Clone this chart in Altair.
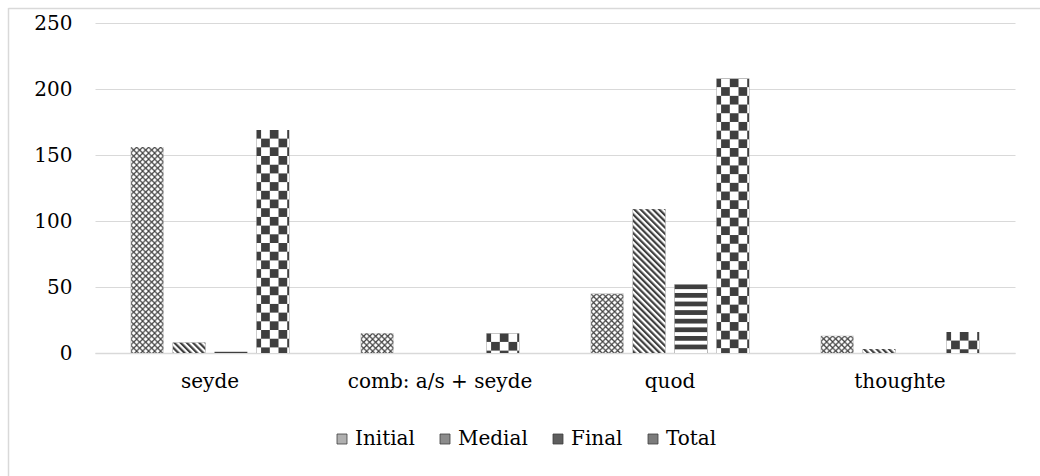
import urllib.parse
import altair as alt
import pandas as pd

# ---- data ----
categories = ["seyde", "comb: a/s + seyde", "quod", "thoughte"]
series = ["Initial", "Medial", "Final", "Total"]
initial = [156, 15, 45, 13]
medial = [8, 0, 109, 3]
final = [1, 0, 52, 0]
total = [169, 15, 208, 16]
y_ticks = [0, 50, 100, 150, 200, 250]

# ---- styles ----
DARK = "#3f3f3f"
FONT = "DejaVu Serif"
FS = 20
GRID = "#d9d9d9"
legend_fills = ["#b0b0b0", "#8c8c8c", "#5e5e5e", "#7c7c7c"]


def svg_url(pattern):
    svg = (
        '<svg xmlns="http://www.w3.org/2000/svg">'
        f"<defs>{pattern}</defs>"
        '<rect width="100%" height="100%" fill="#ffffff"/>'
        '<rect width="100%" height="100%" fill="url(#p)"/></svg>'
    )
    return "data:image/svg+xml," + urllib.parse.quote(svg)


patterns = {
    "Initial": svg_url(
        '<pattern id="p" width="6" height="6" patternUnits="userSpaceOnUse">'
        f'<path d="M0,0L6,6M6,0L0,6" stroke="{DARK}" stroke-width="1.2"/></pattern>'
    ),
    "Medial": svg_url(
        '<pattern id="p" width="4.4" height="4.4" patternUnits="userSpaceOnUse" '
        'patternTransform="rotate(-45)">'
        f'<rect width="2.2" height="4.4" fill="{DARK}"/></pattern>'
    ),
    "Final": svg_url(
        '<pattern id="p" width="8" height="8.6" patternUnits="userSpaceOnUse">'
        f'<rect width="8" height="4.3" fill="{DARK}" shape-rendering="crispEdges"/></pattern>'
    ),
    "Total": svg_url(
        '<pattern id="p" width="17.4" height="17.4" patternUnits="userSpaceOnUse" '
        'patternTransform="translate(-4,0)">'
        f'<rect width="8.7" height="8.7" fill="{DARK}" shape-rendering="crispEdges"/>'
        f'<rect x="8.7" y="8.7" width="8.7" height="8.7" fill="{DARK}" shape-rendering="crispEdges"/>'
        "</pattern>"
    ),
}

rows = []
for s, vals in zip(series, [initial, medial, final, total]):
    for c, v in zip(categories, vals):
        rows.append({"category": c, "series": s, "value": v})
df = pd.DataFrame(rows)
df["pattern"] = df["series"].map(patterns)

x_enc = alt.X(
    "category:N",
    sort=categories,
    scale=alt.Scale(paddingInner=0.31, paddingOuter=0.155),
    axis=alt.Axis(
        title=None,
        labelAngle=0,
        ticks=False,
        domain=True,
        domainColor=GRID,
        domainWidth=1.5,
        labelFont=FONT,
        labelFontSize=FS,
        labelColor="#000000",
        labelPadding=18,
        labelLimit=0,
    ),
)
xoff_enc = alt.XOffset(
    "series:N", sort=series, scale=alt.Scale(paddingInner=0.214, paddingOuter=0)
)
y_enc = alt.Y(
    "value:Q",
    stack=None,
    scale=alt.Scale(domain=[0, 250], nice=False),
    axis=alt.Axis(
        title=None,
        values=y_ticks,
        grid=True,
        gridColor=GRID,
        gridWidth=1.2,
        domain=False,
        ticks=False,
        labelFont=FONT,
        labelFontSize=FS,
        labelColor="#000000",
        labelPadding=23,
    ),
)

bars = alt.Chart(df).mark_bar().encode(
    x=x_enc,
    xOffset=xoff_enc,
    y=y_enc,
    fill=alt.Fill(
        "series:N",
        sort=series,
        scale=alt.Scale(domain=series, range=legend_fills),
        legend=alt.Legend(
            title=None,
            orient="none",
            direction="horizontal",
            legendX=237,
            legendY=406,
            padding=0,
            symbolType="square",
            symbolSize=100,
            symbolStrokeColor=DARK,
            symbolStrokeWidth=0.8,
            labelFont=FONT,
            labelFontSize=FS,
            labelColor="#000000",
            labelOffset=3,
            columnPadding=20,
        ),
    ),
)

images = alt.Chart(df).mark_image(aspect=False).encode(
    x=x_enc,
    xOffset=xoff_enc,
    y=y_enc,
    url=alt.Url("pattern:N"),
)

frame_data = alt.Data(values=[{"k": 1}])
left_edge = alt.Chart(frame_data).mark_rule(color=GRID, strokeWidth=1.5).encode(
    x=alt.value(-86.5), y=alt.value(-15), y2=alt.value(470)
)
top_edge = alt.Chart(frame_data).mark_rule(color=GRID, strokeWidth=1.5).encode(
    x=alt.value(-86.5), x2=alt.value(960), y=alt.value(-14.5)
)

chart = (
    alt.layer(bars, images, left_edge, top_edge)
    .properties(
        width=920,
        height=330,
        padding={"left": 95, "top": 23, "right": 25, "bottom": 123},
        autosize=alt.AutoSizeParams(type="none"),
        background="#ffffff",
    )
    .configure_view(stroke=None)
)

chart.save("out.html", embed_options={"renderer": "svg", "actions": False})
